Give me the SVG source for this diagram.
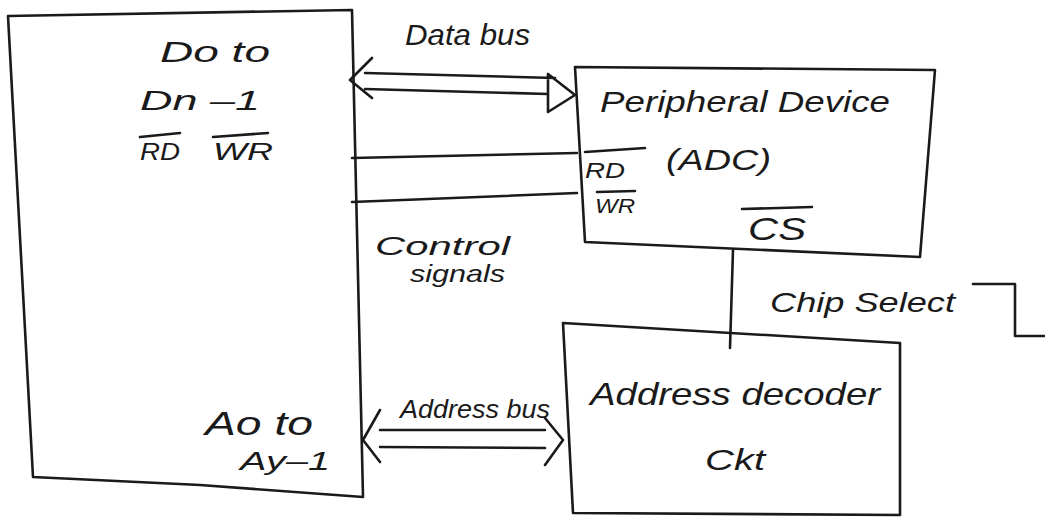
<svg xmlns="http://www.w3.org/2000/svg" width="1045" height="527" viewBox="0 0 1045 527">
<style>
.ln{fill:none;stroke:#1a1a1a;stroke-width:2.6;stroke-linecap:round;stroke-linejoin:round}
.t{font-family:"Liberation Sans",Arial,sans-serif;fill:#1a1a1a;font-style:italic}
</style>
<rect width="1045" height="527" fill="#ffffff"/>
<g id="microprocessor">
<path class="ln" d="M8,16 L352,10 L363,497 L200,485 L33,477 Z"/>
<text class="t" x="160" y="62" font-size="30" textLength="110" lengthAdjust="spacingAndGlyphs">Do to</text>
<text class="t" x="140" y="110" font-size="28" textLength="120" lengthAdjust="spacingAndGlyphs">Dn –1</text>
<text class="t" x="140" y="160" font-size="24" textLength="40" lengthAdjust="spacingAndGlyphs">RD</text>
<text class="t" x="213" y="160" font-size="24" textLength="60" lengthAdjust="spacingAndGlyphs">WR</text>
<path class="ln" d="M140,137 L180,133 M213,137 L268,133" stroke-width="2"/>
<text class="t" x="205" y="435" font-size="34" textLength="108" lengthAdjust="spacingAndGlyphs">Ao to</text>
<text class="t" x="240" y="470" font-size="26" textLength="90" lengthAdjust="spacingAndGlyphs">Ay–1</text>
</g>
<g id="peripheral">
<path class="ln" d="M575,67 L935,70 L920,257 L585,242 Z"/>
<text class="t" x="600" y="112" font-size="30" textLength="290" lengthAdjust="spacingAndGlyphs">Peripheral Device</text>
<text class="t" x="585" y="178" font-size="22" textLength="40" lengthAdjust="spacingAndGlyphs">RD</text>
<path class="ln" d="M585,152 L645,148" stroke-width="2"/>
<text class="t" x="666" y="170" font-size="30" textLength="105" lengthAdjust="spacingAndGlyphs">(ADC)</text>
<text class="t" x="595" y="213" font-size="20" textLength="40" lengthAdjust="spacingAndGlyphs">WR</text>
<path class="ln" d="M597,192 L635,191" stroke-width="2"/>
<text class="t" x="748" y="240" font-size="32" textLength="58" lengthAdjust="spacingAndGlyphs">CS</text>
<path class="ln" d="M742,209 L812,207" stroke-width="2"/>
</g>
<g id="decoder">
<path class="ln" d="M563,323 L900,343 L900,515 L573,513 Z"/>
<text class="t" x="590" y="405" font-size="32" textLength="290" lengthAdjust="spacingAndGlyphs">Address decoder</text>
<text class="t" x="705" y="470" font-size="30" textLength="60" lengthAdjust="spacingAndGlyphs">Ckt</text>
</g>
<g id="connectors">
<path class="ln" d="M372,58 L350,80 L372,98 M365,73 L555,78 M365,89 L548,94 M548,74 L575,95 L548,112 L548,74"/>
<path class="ln" d="M352,158 L577,153 M352,202 L577,193"/>
<path class="ln" d="M733,250 L730,348"/>
<path class="ln" d="M380,410 L363,440 L380,462 M380,430 L545,430 M380,447 L545,448 M545,418 L563,440 L545,465"/>
<path class="ln" d="M973,284 L1015,284 L1015,336 L1045,336"/>
</g>
<g id="labels">
<text class="t" x="405" y="45" font-size="30" textLength="125" lengthAdjust="spacingAndGlyphs">Data bus</text>
<text class="t" x="375" y="255" font-size="26" textLength="135" lengthAdjust="spacingAndGlyphs">Control</text>
<text class="t" x="410" y="282" font-size="24" textLength="95" lengthAdjust="spacingAndGlyphs">signals</text>
<text class="t" x="770" y="312" font-size="28" textLength="185" lengthAdjust="spacingAndGlyphs">Chip Select</text>
<text class="t" x="400" y="418" font-size="26" textLength="150" lengthAdjust="spacingAndGlyphs">Address bus</text>
</g>
</svg>
